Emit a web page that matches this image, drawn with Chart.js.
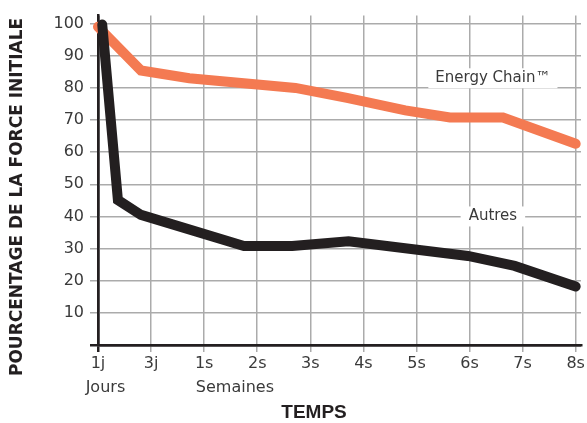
<!DOCTYPE html>
<html>
<head>
<meta charset="utf-8">
<script src="https://cdn.jsdelivr.net/npm/chart.js@4"></script>
<style>
  body { margin: 0; background: #fff; }
  #wrap { width: 587px; height: 423px; position: relative; }
</style>
</head>
<body>
<div id="wrap"><canvas id="forceChart"></canvas></div>
<script>
// Tick labels along the time axis (positions 0..9)
const tickLabels = ['1j', '3j', '1s', '2s', '3s', '4s', '5s', '6s', '7s', '8s'];
const yTicks = [0, 10, 20, 30, 40, 50, 60, 70, 80, 90, 100];

// Energy Chain series
const energyX = [0, 0.81, 1.72, 3.72, 4.69, 5.79, 6.63, 7.63, 9.0];
const energyY = [99, 85.4, 83, 80, 76.9, 73, 70.8, 70.8, 62.6];

// Autres series
const otherX = [0.08, 0.375, 0.81, 2.75, 3.66, 4.72, 6.97, 7.85, 9.0];
const otherY = [99.7, 45.1, 40.5, 30.8, 30.8, 32.3, 27.7, 24.6, 18.2];

const orange = '#f47a52';
const dark = '#231f20';
const gridGrey = '#ababab';
const labelFont = '"DejaVu Sans", sans-serif';

const toPoints = (xs, ys) => xs.map((x, i) => ({ x: x, y: ys[i] }));

// Extra texts: series labels, "Jours"/"Semaines", axis titles
const textPlugin = {
    id: 'textPlugin',
    afterDraw(chart) {
        const { ctx, scales: { x, y } } = chart;
        ctx.save();

        // series labels with white box over the grid
        const boxLabel = (text, xv, yv, padX) => {
            ctx.font = '15px ' + labelFont;
            const w = ctx.measureText(text).width;
            const px = x.getPixelForValue(xv);
            const py = y.getPixelForValue(yv);
            ctx.fillStyle = '#fff';
            ctx.fillRect(px - w / 2 - padX, py - 10, w + padX * 2, 20);
            ctx.fillStyle = '#3a3a3a';
            ctx.textAlign = 'center';
            ctx.textBaseline = 'middle';
            ctx.fillText(text, px, py);
        };
        boxLabel('Energy Chain\u2122', 7.44, 83, 7);
        boxLabel('Autres', 7.44, 40, 8);

        // unit labels under the ticks
        ctx.font = '16px ' + labelFont;
        ctx.fillStyle = '#3a3a3a';
        ctx.textAlign = 'center';
        ctx.textBaseline = 'middle';
        ctx.fillText('Jours', x.getPixelForValue(0.14), 388);
        ctx.fillText('Semaines', x.getPixelForValue(2.58), 388);

        // x title
        ctx.font = 'bold 19px "Liberation Sans", sans-serif';
        ctx.fillStyle = dark;
        ctx.fillText('TEMPS', x.getPixelForValue(4.07), 413);

        // y title
        ctx.translate(18, 197);
        ctx.rotate(-Math.PI / 2);
        ctx.font = 'bold 17px "DejaVu Sans", sans-serif';
        ctx.fillText('POURCENTAGE DE LA FORCE INITIALE', 0, 0);
        ctx.restore();
    }
};

const ctx = document.getElementById('forceChart').getContext('2d');
new Chart(ctx, {
    type: 'line',
    data: {
        datasets: [{
            label: 'Autres',
            data: toPoints(otherX, otherY),
            borderColor: dark,
            borderWidth: 10,
            borderCapStyle: 'round',
            borderJoinStyle: 'miter',
            pointRadius: 0,
            tension: 0,
            clip: false
        }, {
            label: 'Energy Chain',
            data: toPoints(energyX, energyY),
            borderColor: orange,
            borderWidth: 10,
            borderCapStyle: 'round',
            borderJoinStyle: 'miter',
            pointRadius: 0,
            tension: 0,
            clip: false
        }]
    },
    options: {
        responsive: true,
        maintainAspectRatio: false,
        animation: false,
        layout: {
            padding: { top: 12, right: 4, left: 0, bottom: 0 }
        },
        plugins: {
            legend: { display: false },
            tooltip: { enabled: false }
        },
        scales: {
            x: {
                type: 'linear',
                min: 0,
                max: 9.1,
                afterBuildTicks: scale => {
                    scale.ticks = tickLabels.map((_, i) => ({ value: i }));
                },
                afterFit: scale => { scale.height = 78; },
                ticks: {
                    callback: value => tickLabels[value],
                    color: '#3a3a3a',
                    font: { family: labelFont, size: 16 },
                    padding: 2,
                    maxRotation: 0,
                    autoSkip: false
                },
                grid: {
                    color: c => (c.tick && c.tick.value === 0) ? dark : gridGrey,
                    lineWidth: c => (c.tick && c.tick.value === 0) ? 2.5 : 1.5,
                    tickLength: 7
                },
                border: { color: dark, width: 2.5 }
            },
            y: {
                min: 0,
                max: 102.5,
                afterBuildTicks: scale => {
                    scale.ticks = yTicks.map(v => ({ value: v }));
                },
                afterFit: scale => { scale.width = 98; },
                ticks: {
                    callback: value => value === 0 ? '' : value,
                    color: '#3a3a3a',
                    font: { family: labelFont, size: 16 },
                    padding: 6
                },
                grid: {
                    color: c => (c.tick && c.tick.value === 0) ? dark : gridGrey,
                    lineWidth: c => (c.tick && c.tick.value === 0) ? 2.5 : 1.5,
                    tickLength: 8
                },
                border: { color: dark, width: 2.5 }
            }
        }
    },
    plugins: [textPlugin]
});
</script>
</body>
</html>
